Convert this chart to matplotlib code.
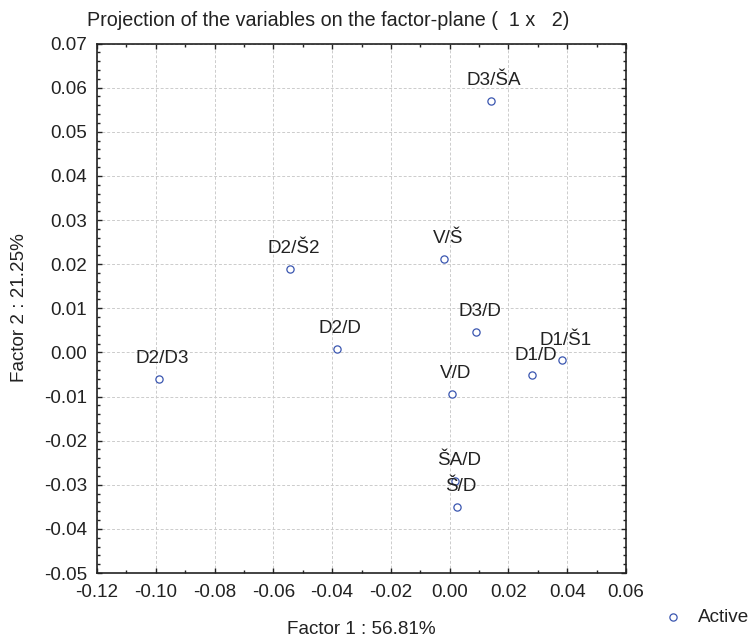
import matplotlib
matplotlib.use("Agg")
import matplotlib.pyplot as plt
from matplotlib.ticker import MultipleLocator, FuncFormatter

plt.rcParams['font.family'] = ['Liberation Sans', 'DejaVu Sans']

labels = ["D3/ŠA", "V/Š", "D2/Š2", "D3/D", "D2/D", "D2/D3", "D1/Š1", "D1/D", "V/D", "ŠA/D", "Š/D"]
factor1 = [0.0140, -0.0018, -0.0543, 0.0090, -0.0384, -0.0990, 0.0383, 0.0281, 0.0007, 0.0019, 0.0025]
factor2 = [0.0570, 0.0212, 0.0190, 0.0046, 0.0008, -0.0061, -0.0018, -0.0052, -0.0095, -0.0292, -0.0351]

W, H = 753, 644
fig = plt.figure(figsize=(W / 100, H / 100), dpi=100)
ax = fig.add_axes([97 / W, 1 - 573 / H, (626 - 97) / W, (573 - 43.5) / H])

blue = "#3a56b0"
fs = 13.6
ax.plot(factor1, factor2, linestyle="none", marker="o", markersize=5.2,
        markerfacecolor="white", markeredgecolor=blue, markeredgewidth=0.9, zorder=3)
for lab, x, y in zip(labels, factor1, factor2):
    ax.annotate(lab, (x, y), xytext=(2.5, 8.5), textcoords="offset points",
                ha="center", va="bottom", fontsize=fs, color="#222222", zorder=4)


def fmt(v, pos):
    v = round(v, 4)
    if abs(v) < 1e-9:
        v = 0.0
    return "%.2f" % v


ax.set_xlim(-0.12, 0.06)
ax.set_ylim(-0.05, 0.07)
ax.xaxis.set_major_locator(MultipleLocator(0.02))
ax.xaxis.set_minor_locator(MultipleLocator(0.01))
ax.yaxis.set_major_locator(MultipleLocator(0.01))
ax.yaxis.set_minor_locator(MultipleLocator(0.002))
ax.xaxis.set_major_formatter(FuncFormatter(fmt))
ax.yaxis.set_major_formatter(FuncFormatter(fmt))
ax.tick_params(which="both", direction="in", top=True, right=True, colors="#222222",
               labelsize=fs, width=1.0)
ax.tick_params(which="major", length=3.5)
ax.tick_params(which="minor", length=2)
ax.tick_params(axis="x", which="major", pad=8)
ax.tick_params(axis="y", which="major", pad=7)
for s in ax.spines.values():
    s.set_linewidth(1.2)
    s.set_color("#222222")
ax.grid(True, which="major", linestyle=(0, (3, 2)), color="#cccccc", linewidth=0.7)
ax.set_axisbelow(True)

fig.text(86.7 / W, 1 - 25.7 / H, "Projection of the variables on the factor-plane (  1 x   2)",
         ha="left", va="baseline", fontsize=14.2, color="#222222")
fig.text(361.5 / W, 1 - 630 / H, "Factor 1 : 56.81%", ha="center", va="center",
         fontsize=fs, color="#222222")
fig.text(20 / W, 1 - 308 / H, "Factor 2 : 21.25%", ha="center", va="center",
         rotation=90, fontsize=fs, color="#222222")

# legend
lx, ly = 673, 617
fig.lines.append(plt.Line2D([lx / W], [1 - ly / H], transform=fig.transFigure,
                            marker="o", markersize=5.2, markerfacecolor="white",
                            markeredgecolor=blue, markeredgewidth=0.9, linestyle="none"))
fig.text(698 / W, 1 - ly / H, "Active", ha="left", va="center", fontsize=fs, color="#222222")

fig.savefig("out.png", dpi=100)
